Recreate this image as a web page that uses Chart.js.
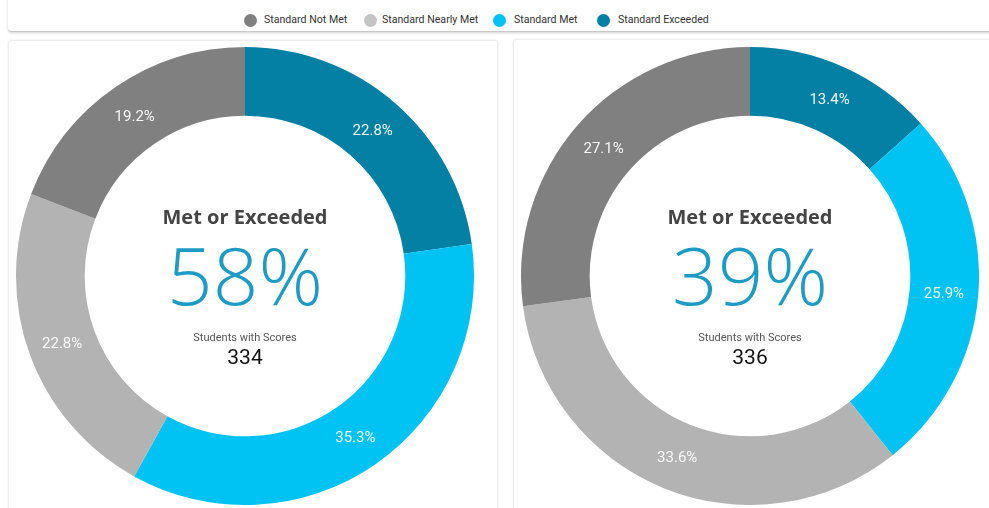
<!DOCTYPE html>
<html>
<head>
<meta charset="utf-8">
<script src="https://cdn.jsdelivr.net/npm/chart.js@4"></script>
<style>
  html, body { margin: 0; padding: 0; background: #fff; width: 989px; height: 508px; overflow: hidden; font-family: Roboto, sans-serif; }
  #legend {
    position: absolute; left: 8px; top: -4px; width: 1000px; height: 35px;
    background: #fff; border-bottom: 1px solid #c8c8c8; border-radius: 4px;
    box-shadow: 0 1px 3px rgba(0,0,0,0.18);
  }
  .item { position: absolute; top: 17px; font-size: 10.6px; color: #333; line-height: 14px; white-space: nowrap; transform: scaleY(1.1); }
  .dot { position: absolute; top: 18px; width: 13px; height: 13px; border-radius: 50%; }
  .card {
    position: absolute; top: 40px; height: 480px; background: #fff;
    border: 1px solid #eee; border-radius: 3px; box-shadow: 0 0 3px rgba(0,0,0,0.08);
  }
  .cw { position: absolute; width: 458px; height: 458px; }
  .center { position: absolute; width: 300px; text-align: center; }
  .title { font-family: "Open Sans", sans-serif; font-weight: 700; font-size: 20px; color: #444; }
  .big { font-family: "Open Sans", sans-serif; font-weight: 300; font-size: 80px; color: #1b9bc5; line-height: 1; }
  .sub { font-size: 11px; color: #555; }
  .num { font-size: 21px; color: #111; }
</style>
</head>
<body>
<div id="legend"></div>
<div class="card" style="left:8px; width:488px;"></div>
<div class="card" style="left:513px; width:490px; top:39px;"></div>
<div class="cw" style="left:16px; top:47px;"><canvas id="left"></canvas></div>
<div class="cw" style="left:521px; top:47px;"><canvas id="right"></canvas></div>
<div id="centers"></div>
<script>
// clockwise order starting at 12 o'clock
const categories = ["Standard Exceeded", "Standard Met", "Standard Nearly Met", "Standard Not Met"];
const leftValues = [22.8, 35.3, 22.8, 19.2];
const rightValues = [13.4, 25.9, 33.6, 27.1];
const legendOrder = ["Standard Not Met", "Standard Nearly Met", "Standard Met", "Standard Exceeded"];
const metOrExceeded = ["58%", "39%"];
const studentCounts = ["334", "336"];

const colors = {
  "Standard Exceeded": "#0380a3",
  "Standard Met": "#00c3f3",
  "Standard Nearly Met": "#b3b3b3",
  "Standard Not Met": "#808080",
};

// legend strip (dot centres and text starts, page coords)
const dotX = [250, 370, 499, 603];
const textX = [264, 382, 514, 618];
const legend = document.getElementById("legend");
legendOrder.forEach((name, i) => {
  const d = document.createElement("div");
  d.className = "dot";
  d.style.left = (dotX[i] - 8 - 6.5) + "px";
  d.style.background = name === "Standard Nearly Met" ? "#c4c4c4" : colors[name];
  legend.appendChild(d);
  const t = document.createElement("div");
  t.className = "item";
  t.style.left = (textX[i] - 8) + "px";
  t.textContent = name;
  legend.appendChild(t);
});

// labels on each arc
const arcLabels = {
  id: "arcLabels",
  afterDatasetsDraw(chart) {
    const ctx = chart.ctx;
    const meta = chart.getDatasetMeta(0);
    ctx.save();
    ctx.font = "15px Roboto";
    ctx.fillStyle = "rgba(255,255,255,0.92)";
    ctx.textAlign = "center";
    ctx.textBaseline = "middle";
    meta.data.forEach((arc, i) => {
      const p = arc.tooltipPosition();
      ctx.fillText(chart.data.datasets[0].data[i].toFixed(1) + "%", p.x, p.y + 2);
    });
    ctx.restore();
  },
};

function makeDonut(id, values) {
  new Chart(document.getElementById(id), {
    type: "doughnut",
    data: {
      labels: categories,
      datasets: [{
        data: values,
        backgroundColor: categories.map((c) => colors[c]),
        borderWidth: 0,
      }],
    },
    options: {
      responsive: true,
      maintainAspectRatio: false,
      animation: false,
      cutout: "70%",
      layout: { padding: 0 },
      plugins: { legend: { display: false }, tooltip: { enabled: false } },
    },
    plugins: [arcLabels],
  });
}
makeDonut("left", leftValues);
makeDonut("right", rightValues);

// center text
const centers = document.getElementById("centers");
[245, 750].forEach((cx, i) => {
  const add = (cls, text, y) => {
    const e = document.createElement("div");
    e.className = "center " + cls;
    e.style.left = (cx - 150) + "px";
    e.style.top = y + "px";
    e.textContent = text;
    centers.appendChild(e);
  };
  add("title", "Met or Exceeded", 203);
  add("big", metOrExceeded[i], 234);
  add("sub", "Students with Scores", 331);
  add("num", studentCounts[i], 345);
});
</script>
</body>
</html>
